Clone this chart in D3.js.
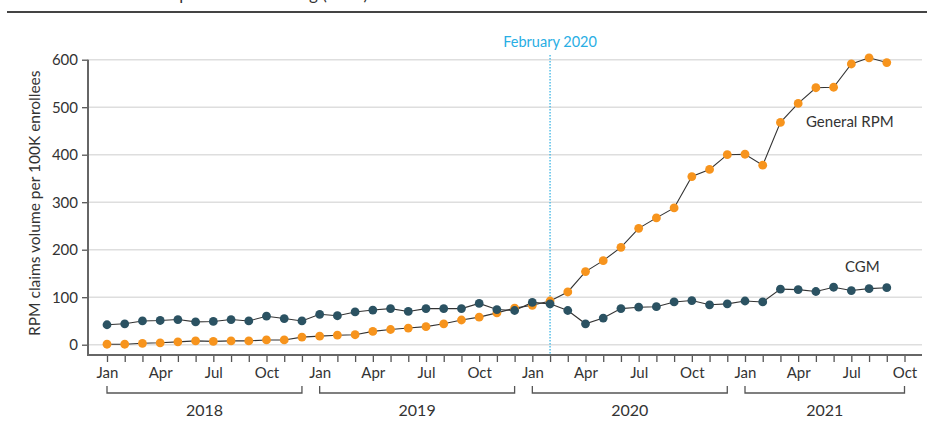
<!DOCTYPE html>
<html>
<head>
<meta charset="utf-8">
<script src="https://cdn.jsdelivr.net/npm/d3@7/dist/d3.min.js"></script>
<style>
  body { margin: 0; background: #fff; }
  text { font-family: Lato, "Open Sans", sans-serif; fill: #333; }
</style>
</head>
<body>
<div id="chart"></div>
<script>
// months Jan 2018 .. Oct 2021 (tick positions), data runs to Sep 2021
const monthLabels = ["Jan", "", "", "Apr", "", "", "Jul", "", "", "Oct", "", "",
    "Jan", "", "", "Apr", "", "", "Jul", "", "", "Oct", "", "",
    "Jan", "", "", "Apr", "", "", "Jul", "", "", "Oct", "", "",
    "Jan", "", "", "Apr", "", "", "Jul", "", "", "Oct"];
const years = ["2018", "2019", "2020", "2021"];
const yearStart = [0, 12, 24, 36];
const yearEnd = [11, 23, 35, 45];

const cgm = [42, 44, 50, 51, 53, 48, 49, 53, 50, 60, 55, 50,
    64, 61, 69, 73, 76, 70, 76, 76, 76, 87, 74, 72,
    89, 86, 72, 44, 56, 76, 79, 80, 90, 93, 84, 86,
    92, 90, 117, 116, 112, 121, 114, 118, 120];
const generalRpm = [1, 1, 3, 4, 6, 8, 7, 8, 8, 10, 10, 16,
    18, 20, 21, 28, 32, 35, 38, 44, 52, 58, 67, 77,
    83, 92, 111, 154, 177, 205, 245, 267, 288, 354, 369, 400,
    401, 378, 468, 508, 541, 542, 591, 604, 594];
const yTicks = [0, 100, 200, 300, 400, 500, 600];
const markerMonth = 25; // February 2020
const markerLabel = "February 2020";

const w = 927, h = 434;
const svg = d3.select("#chart").append("svg")
    .attr("width", w).attr("height", h);

//scales
const x = d3.scaleLinear().domain([0, 45]).range([107, 904.5]);
const y = d3.scaleLinear().domain([0, 600]).range([344.7, 59.7]);
const axisY = 355, axisLeft = 88, axisRight = 922;

//title remnant + rule at top
svg.append("text")
    .text("Monthly claims volume for remote patient monitoring (RPM)")
    .attr("x", 368).attr("y", 0)
    .attr("text-anchor", "end")
    .attr("font-size", "17px");
svg.append("line")
    .attr("x1", 7).attr("x2", w).attr("y1", 12).attr("y2", 12)
    .attr("stroke", "#444").attr("stroke-width", 2);

//grid lines
svg.append("g").selectAll("line").data(yTicks.filter(d => d > 0 || true))
    .join("line")
    .attr("x1", axisLeft).attr("x2", axisRight)
    .attr("y1", d => y(d)).attr("y2", d => y(d))
    .attr("stroke", "#dedede").attr("stroke-width", 1.5);

//y axis
const yaxis = d3.axisLeft(y).tickValues(yTicks).tickSize(6).tickPadding(4);
const ygrp = svg.append("g")
    .attr("transform", `translate(${axisLeft},0)`)
    .call(yaxis);
ygrp.select(".domain").remove();
ygrp.selectAll(".tick line").attr("stroke", "#555").attr("stroke-width", 1.3);
ygrp.selectAll(".tick text")
    .attr("font-size", "15px").attr("font-family", "Lato").attr("fill", "#333");
svg.append("line")
    .attr("x1", axisLeft).attr("x2", axisLeft)
    .attr("y1", y(600)).attr("y2", axisY + 0.5)
    .attr("stroke", "#666").attr("stroke-width", 2);

//x axis
const xaxis = d3.axisBottom(x).tickValues(d3.range(monthLabels.length))
    .tickSize(7).tickPadding(5).tickFormat(i => monthLabels[i]);
const xgrp = svg.append("g")
    .attr("transform", `translate(0,${axisY})`)
    .call(xaxis);
xgrp.select(".domain").remove();
xgrp.selectAll(".tick line").attr("stroke", "#555").attr("stroke-width", 1.3);
xgrp.selectAll(".tick text")
    .attr("font-size", "15px").attr("font-family", "Lato").attr("fill", "#333");
svg.append("line")
    .attr("x1", axisLeft - 1).attr("x2", axisRight)
    .attr("y1", axisY).attr("y2", axisY)
    .attr("stroke", "#666").attr("stroke-width", 2);

//year brackets
const brackets = svg.append("g");
years.forEach((yr, i) => {
    const x0 = x(yearStart[i]), x1 = x(yearEnd[i]);
    brackets.append("path")
        .attr("d", `M${x0},386V393H${x1}V386`)
        .attr("fill", "none").attr("stroke", "#555").attr("stroke-width", 1.3);
    brackets.append("text")
        .text(yr)
        .attr("x", (x0 + x1) / 2).attr("y", 416)
        .attr("text-anchor", "middle")
        .attr("font-size", "16px");
});

//February 2020 marker
svg.append("line")
    .attr("x1", x(markerMonth)).attr("x2", x(markerMonth))
    .attr("y1", 55).attr("y2", axisY)
    .attr("stroke", "#3bb4e5").attr("stroke-width", 1.3)
    .attr("stroke-dasharray", "1.5,1.5");
svg.append("text")
    .text(markerLabel)
    .attr("x", x(markerMonth)).attr("y", 47)
    .attr("text-anchor", "middle")
    .attr("font-size", "14.5px")
    .style("fill", "#29aee4");

//lines
const line = d3.line().x((d, i) => x(i)).y(d => y(d));
[generalRpm, cgm].forEach(series => {
    svg.append("path")
        .datum(series)
        .attr("d", line)
        .attr("fill", "none")
        .attr("stroke", "#333")
        .attr("stroke-width", 1.1);
});

//points
svg.append("g").selectAll("circle").data(generalRpm)
    .join("circle")
    .attr("cx", (d, i) => x(i)).attr("cy", d => y(d))
    .attr("r", 4.4).attr("fill", "#f7941d");
svg.append("g").selectAll("circle").data(cgm)
    .join("circle")
    .attr("cx", (d, i) => x(i)).attr("cy", d => y(d))
    .attr("r", 4.4).attr("fill", "#2b5262");

//series labels
svg.append("text").text("General RPM")
    .attr("x", 806).attr("y", 127)
    .attr("font-size", "15px");
svg.append("text").text("CGM")
    .attr("x", 845).attr("y", 272)
    .attr("font-size", "15px");

//y axis label
svg.append("text")
    .text("RPM claims volume per 100K enrollees")
    .attr("transform", `translate(40,${(y(600) + y(0)) / 2 + 1}) rotate(-90)`)
    .attr("text-anchor", "middle")
    .attr("font-size", "15.5px");
</script>
</body>
</html>
